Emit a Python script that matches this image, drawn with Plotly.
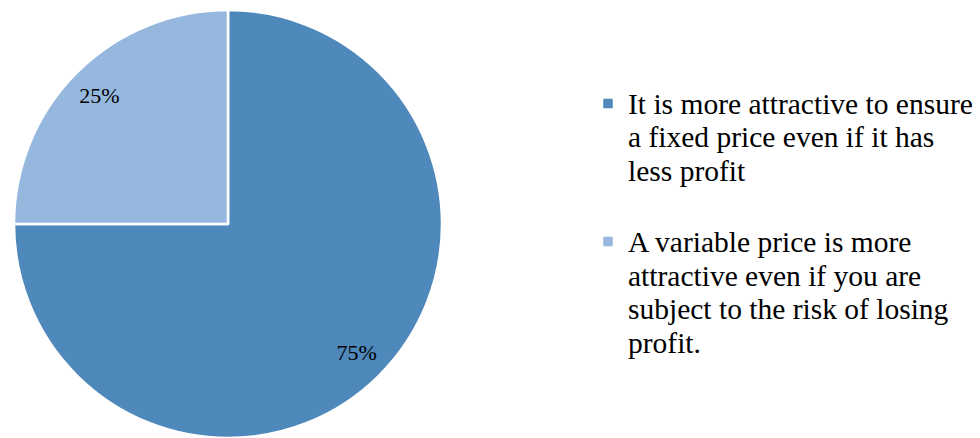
import plotly.graph_objects as go

# Survey answers on price preference
label_lines = [
    ["It is more attractive to ensure", "a fixed price even if it has", "less profit"],
    ["A variable price is more", "attractive even if you are", "subject to the risk of losing", "profit."],
]
values = [75, 25]
colors = ["#4F88BB", "#97B8DE"]

W, H = 980, 438
SERIF = "Times New Roman, Liberation Serif, serif"
pie_domain = dict(x=[12 / W, 444 / W], y=[0, 1 - 10 / H])


def legend_label(lines, spacer):
    # larger glyphs on the legend's tighter line pitch
    body = "<br>".join(f'<span style="font-size:29.5px">{s}</span>' for s in lines)
    return body + ("<br> " if spacer else "")


labels = [legend_label(l, i < len(label_lines) - 1) for i, l in enumerate(label_lines)]

# Filled pie
fig = go.Figure(
    go.Pie(
        labels=labels,
        values=values,
        sort=False,
        direction="clockwise",
        rotation=0,
        marker=dict(colors=colors, line=dict(color="white", width=2.5)),
        textinfo="none",
        domain=pie_domain,
        hoverinfo="percent",
    )
)

# Transparent ring carrying the percentage labels near the rim
fig.add_trace(
    go.Pie(
        labels=labels,
        values=values,
        sort=False,
        direction="clockwise",
        rotation=0,
        hole=0.7,
        marker=dict(colors=["rgba(0,0,0,0)"] * len(values), line=dict(width=0)),
        texttemplate="%{percent:.0%}",
        textposition="inside",
        insidetextorientation="horizontal",
        textfont=dict(family=SERIF, size=22, color="black"),
        domain=pie_domain,
        showlegend=False,
        hoverinfo="skip",
    )
)

fig.update_layout(
    width=W,
    height=H,
    margin=dict(l=0, r=0, t=0, b=0, autoexpand=False),
    paper_bgcolor="white",
    plot_bgcolor="white",
    showlegend=True,
    legend=dict(
        x=588 / W,
        y=1 - 80 / H,
        xanchor="left",
        yanchor="top",
        valign="top",
        font=dict(family=SERIF, size=26, color="black"),
        itemwidth=30,
    ),
)

fig.write_html("out.html")
